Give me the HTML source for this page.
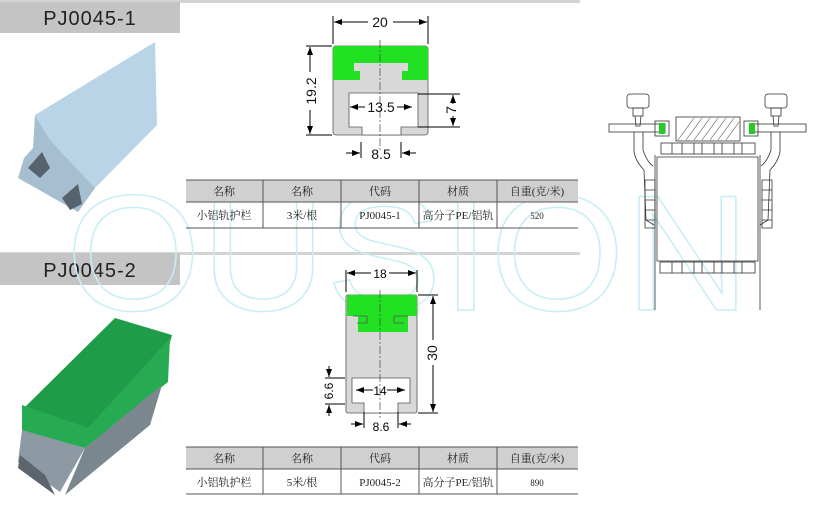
<!DOCTYPE html>
<html><head><meta charset="utf-8"><style>
body{margin:0;background:#fff;}
svg{display:block;font-family:"Liberation Sans","Noto Sans CJK SC",sans-serif;}
.s{font-family:"Liberation Serif","Noto Serif CJK SC",serif;font-size:11px;fill:#222;}
.d{stroke:#000;stroke-width:1;fill:none;}
.t{font-size:14px;fill:#111;}
</style></head><body>
<svg width="820" height="512" viewBox="0 0 820 512" xmlns="http://www.w3.org/2000/svg">
<defs><marker id="a" markerWidth="8" markerHeight="6" refX="8" refY="3" orient="auto-start-reverse"><path d="M0,0L8,3L0,6z" fill="#000"/></marker></defs>
<rect x="0" y="0" width="580" height="3" fill="#d4d4d4"/>
<rect x="0" y="2" width="180" height="31" fill="#c4c4c4"/>
<text x="90" y="25" font-size="20" text-anchor="middle" fill="#222" letter-spacing="1">PJ0045-1</text>
<rect x="0" y="252" width="580" height="3" fill="#d4d4d4"/>
<rect x="0" y="253" width="180" height="32" fill="#c4c4c4"/>
<text x="90" y="277" font-size="20" text-anchor="middle" fill="#222" letter-spacing="1">PJ0045-2</text>

<!-- photo 1 -->
<polygon points="35,115 155,42 157,125 95,188 50,140" fill="#b8d4e6"/>
<polygon points="35,115 50,140 95,188 78,212 18,178 24,158 33,148" fill="#a6bfd0"/>
<polygon points="28,168 42,152 50,168 40,178" fill="#56626c"/>
<polygon points="62,198 78,184 82,204 70,210" fill="#56626c"/>

<!-- photo 2 -->
<polygon points="115,318 172,335 165,360 88,430 22,410" fill="#1f9c48"/>
<polygon points="22,405 88,428 170,338 168,382 85,448 22,432" fill="#27ab52"/>
<polygon points="22,430 85,448 60,492 18,462" fill="#8e9aa3"/>
<polygon points="85,448 162,385 150,425 65,495" fill="#7b878f"/>
<polygon points="20,455 45,475 55,495 18,468" fill="#5c656d"/>

<text x="66" y="310" font-size="165" fill="none" stroke="#c6eef6" stroke-width="1.5" textLength="684" lengthAdjust="spacingAndGlyphs" font-family="Liberation Sans">OUSION</text>

<!-- drawing 1 -->
<rect x="333" y="46" width="95" height="89" rx="3" fill="#d8d8d8" stroke="#555" stroke-width="0.8"/>
<path d="M336,46 h89 a3,3 0 0 1 3,3 v31 h-26 v-9 h6 v-8 h-54 v8 h6 v9 h-27 v-31 a3,3 0 0 1 3,-3 z" fill="#22e022"/>
<path d="M349,93 h69 v34 h-17 v8 h-39 v-8 h-13 z" fill="#fff" stroke="#555" stroke-width="0.8"/>
<line x1="380" y1="40" x2="380" y2="150" stroke="#444" stroke-dasharray="8,2,2,2" stroke-width="0.7"/>
<line x1="333" y1="16" x2="333" y2="44" class="d" stroke-width="0.7"/><line x1="428" y1="16" x2="428" y2="44" class="d" stroke-width="0.7"/>
<line x1="334" y1="22" x2="368" y2="22" class="d" marker-start="url(#a)"/><line x1="393" y1="22" x2="427" y2="22" class="d" marker-end="url(#a)"/>
<text x="380" y="27" class="t" text-anchor="middle">20</text>
<line x1="306" y1="46" x2="332" y2="46" class="d" stroke-width="0.7"/><line x1="306" y1="135" x2="332" y2="135" class="d" stroke-width="0.7"/>
<line x1="310" y1="47" x2="310" y2="72" class="d" marker-start="url(#a)"/><line x1="310" y1="110" x2="310" y2="134" class="d" marker-end="url(#a)"/>
<text x="316" y="91" class="t" text-anchor="middle" transform="rotate(-90 316 91)">19.2</text>
<line x1="350" y1="107" x2="365" y2="107" class="d" marker-start="url(#a)"/><line x1="397" y1="107" x2="412" y2="107" class="d" marker-end="url(#a)"/>
<text x="381" y="112" class="t" text-anchor="middle">13.5</text>
<line x1="418" y1="94" x2="460" y2="94" class="d" stroke-width="0.7"/><line x1="418" y1="127" x2="460" y2="127" class="d" stroke-width="0.7"/>
<line x1="453" y1="95" x2="453" y2="104" class="d" marker-start="url(#a)"/><line x1="453" y1="116" x2="453" y2="126" class="d" marker-end="url(#a)"/>
<text x="456" y="110" class="t" text-anchor="middle" transform="rotate(-90 456 110)">7</text>
<line x1="361" y1="142" x2="361" y2="158" class="d" stroke-width="0.7"/><line x1="401" y1="142" x2="401" y2="158" class="d" stroke-width="0.7"/>
<line x1="346" y1="153" x2="360" y2="153" class="d" marker-end="url(#a)"/><line x1="416" y1="153" x2="402" y2="153" class="d" marker-end="url(#a)"/>
<text x="381" y="159" class="t" text-anchor="middle">8.5</text>

<!-- drawing 2 -->
<rect x="346" y="295" width="71" height="118" rx="2" fill="#d8d8d8" stroke="#555" stroke-width="0.8"/>
<path d="M348,295 h67 a2,2 0 0 1 2,2 v19 h-9 v16 h-50 v-16 h-11 v-19 a2,2 0 0 1 1,-2 z" fill="#22e022"/>
<path d="M353,316 h14 v7 h-10 M408,316 h-14 v7 h10" fill="none" stroke="#555" stroke-width="0.8"/>
<path d="M352,378 h58 v25 h-12 v10 h-34 v-10 h-12 z" fill="#fff" stroke="#555" stroke-width="0.8"/>
<line x1="380" y1="290" x2="380" y2="418" stroke="#444" stroke-dasharray="8,2,2,2" stroke-width="0.7"/>
<line x1="346" y1="270" x2="346" y2="292" class="d" stroke-width="0.7"/><line x1="417" y1="270" x2="417" y2="292" class="d" stroke-width="0.7"/>
<line x1="347" y1="273" x2="371" y2="273" class="d" marker-start="url(#a)"/><line x1="389" y1="273" x2="416" y2="273" class="d" marker-end="url(#a)"/>
<text x="380" y="278" font-size="12" text-anchor="middle">18</text>
<line x1="418" y1="295" x2="438" y2="295" class="d" stroke-width="0.7"/><line x1="418" y1="413" x2="438" y2="413" class="d" stroke-width="0.7"/>
<line x1="433" y1="296" x2="433" y2="340" class="d" marker-start="url(#a)"/><line x1="433" y1="365" x2="433" y2="412" class="d" marker-end="url(#a)"/>
<text x="437" y="353" class="t" text-anchor="middle" transform="rotate(-90 437 353)">30</text>
<line x1="325" y1="378" x2="345" y2="378" class="d" stroke-width="0.7"/><line x1="325" y1="404" x2="345" y2="404" class="d" stroke-width="0.7"/>
<line x1="329" y1="366" x2="329" y2="377" class="d" marker-end="url(#a)"/><line x1="329" y1="416" x2="329" y2="405" class="d" marker-end="url(#a)"/>
<text x="333" y="391" font-size="12" text-anchor="middle" transform="rotate(-90 333 391)">6.6</text>
<line x1="356" y1="390" x2="373" y2="390" class="d" marker-start="url(#a)"/><line x1="387" y1="390" x2="405" y2="390" class="d" marker-end="url(#a)"/>
<text x="380" y="395" font-size="12" text-anchor="middle">14</text>
<line x1="364" y1="412" x2="364" y2="428" class="d" stroke-width="0.7"/><line x1="398" y1="412" x2="398" y2="428" class="d" stroke-width="0.7"/>
<line x1="351" y1="424" x2="363" y2="424" class="d" marker-end="url(#a)"/><line x1="411" y1="424" x2="399" y2="424" class="d" marker-end="url(#a)"/>
<text x="381" y="431" font-size="12" text-anchor="middle">8.6</text>

<!-- tables -->
<g>
<rect x="186" y="180" width="392" height="22" fill="#d0d0d0"/>
<line x1="186" y1="180" x2="578" y2="180" stroke="#555"/><line x1="186" y1="202" x2="578" y2="202" stroke="#555"/><line x1="186" y1="228" x2="578" y2="228" stroke="#555"/>
<g stroke="#555"><line x1="263" y1="180" x2="263" y2="228"/><line x1="341" y1="180" x2="341" y2="228"/><line x1="419" y1="180" x2="419" y2="228"/><line x1="497" y1="180" x2="497" y2="228"/></g>
<g class="s" text-anchor="middle"><text x="224" y="195">名称</text><text x="302" y="195">名称</text><text x="380" y="195">代码</text><text x="458" y="195">材质</text><text x="537" y="195">自重(克/米)</text>
<text x="224" y="219">小铝轨护栏</text><text x="302" y="219">3米/根</text><text x="380" y="219">PJ0045-1</text><text x="458" y="219">高分子PE/铝轨</text><text x="537" y="219" font-size="9">520</text></g>
</g>
<g>
<rect x="186" y="447" width="392" height="22" fill="#d0d0d0"/>
<line x1="186" y1="447" x2="578" y2="447" stroke="#555"/><line x1="186" y1="469" x2="578" y2="469" stroke="#555"/><line x1="186" y1="494" x2="578" y2="494" stroke="#555"/>
<g stroke="#555"><line x1="263" y1="447" x2="263" y2="494"/><line x1="341" y1="447" x2="341" y2="494"/><line x1="419" y1="447" x2="419" y2="494"/><line x1="497" y1="447" x2="497" y2="494"/></g>
<g class="s" text-anchor="middle"><text x="224" y="462">名称</text><text x="302" y="462">名称</text><text x="380" y="462">代码</text><text x="458" y="462">材质</text><text x="537" y="462">自重(克/米)</text>
<text x="224" y="486">小铝轨护栏</text><text x="302" y="486">5米/根</text><text x="380" y="486">PJ0045-2</text><text x="458" y="486">高分子PE/铝轨</text><text x="537" y="486" font-size="9">890</text></g>
</g>

<!-- right assembly -->
<g fill="none" stroke="#333" stroke-width="0.8">
<rect x="627" y="94" width="22" height="14" rx="3"/><rect x="633" y="108" width="10" height="8"/><path d="M635,116 l1,10 h4 l1,-10"/>
<rect x="765" y="94" width="22" height="14" rx="3"/><rect x="771" y="108" width="10" height="8"/><path d="M773,116 l1,10 h4 l1,-10"/>
<rect x="609" y="124" width="56" height="8"/><rect x="750" y="124" width="56" height="8"/>
<rect x="655" y="121" width="14" height="15"/><rect x="744" y="121" width="14" height="15"/>
<rect x="676" y="117" width="64" height="24" fill="#fff"/>
<rect x="661" y="143" width="94" height="11"/>
<path d="M672,143 v11 M682,143 v11 M694,143 v11 M702,143 v11 M714,143 v11 M722,143 v11 M734,143 v11 M742,143 v11"/>
<path d="M657,157 h101 v104 h-101 z"/>
<path d="M655,155 v155 M760,155 v155"/>
<path d="M634,132 v20 q2,10 10,18 l2,50 l8,5 M643,132 v18 q4,12 10,16"/>
<path d="M780,132 v20 q-2,10 -10,18 l-2,50 l-8,5 M771,132 v18 q-4,12 -10,16"/>
<path d="M645,180 h10 v48 h-10 z M645,190 h10 M645,200 h10 M645,210 h10 M645,220 h10"/>
<path d="M762,180 h10 v48 h-10 z M762,190 h10 M762,200 h10 M762,210 h10 M762,220 h10"/>
<rect x="660" y="262" width="95" height="11"/>
<path d="M672,262 v11 M682,262 v11 M694,262 v11 M702,262 v11 M714,262 v11 M722,262 v11 M734,262 v11 M742,262 v11"/>
</g>
<g stroke="#555" stroke-width="0.6">
<path d="M678,140 l16,-22 M686,140 l16,-22 M694,140 l16,-22 M702,140 l16,-22 M710,140 l16,-22 M718,140 l16,-22 M726,140 l13,-18"/>
</g>
<rect x="659" y="123" width="6" height="11" fill="#22cc22"/><rect x="749" y="123" width="6" height="11" fill="#22cc22"/>
</svg>
</body></html>
